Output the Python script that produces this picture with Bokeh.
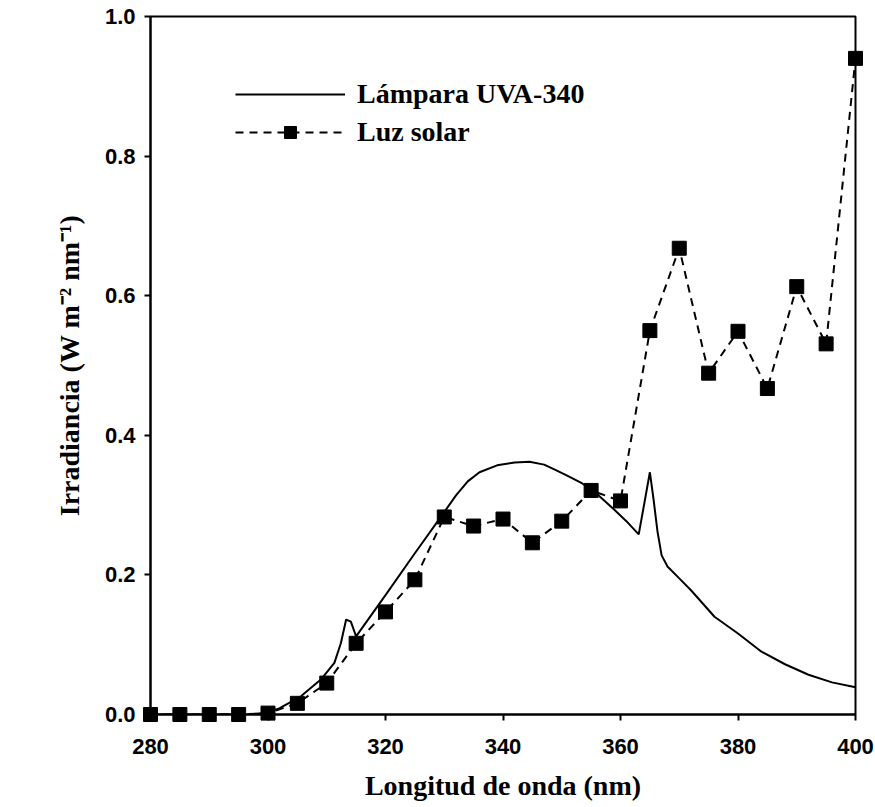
from bokeh.plotting import figure
from bokeh.models import FixedTicker, PrintfTickFormatter, Legend, LegendItem, Range1d
from bokeh.embed import file_html
from bokeh.resources import INLINE

# Sunlight spectral irradiance, sampled every 5 nm
solar_nm = [280, 285, 290, 295, 300, 305, 310, 315, 320, 325, 330, 335, 340,
            345, 350, 355, 360, 365, 370, 375, 380, 385, 390, 395, 400]
solar_irr = [0.0, 0.0, 0.0, 0.0, 0.002, 0.016, 0.045, 0.102, 0.147, 0.193,
             0.283, 0.270, 0.280, 0.246, 0.277, 0.321, 0.306, 0.550, 0.668,
             0.489, 0.549, 0.467, 0.613, 0.531, 0.940]

# UVA-340 fluorescent lamp spectrum
lamp_nm = [280, 290, 297, 300, 302, 305.6, 309, 311.3, 312.4, 313.3, 314.1,
           315, 320, 325, 330, 332, 334, 336, 339, 342, 344.5, 347, 349, 351,
           353.5, 356, 359, 361, 363.1, 364, 365, 365.6, 366.3, 367, 368, 370,
           372, 376, 380, 384, 388, 392, 396, 400]
lamp_irr = [0.0, 0.0, 0.0, 0.003, 0.009, 0.026, 0.050, 0.074, 0.102, 0.136,
            0.133, 0.112, 0.171, 0.231, 0.290, 0.314, 0.334, 0.347, 0.357,
            0.361, 0.362, 0.358, 0.350, 0.342, 0.331, 0.316, 0.293, 0.277,
            0.258, 0.300, 0.347, 0.310, 0.262, 0.228, 0.212, 0.195, 0.178,
            0.140, 0.116, 0.090, 0.072, 0.057, 0.046, 0.039]

x_ticks = [280, 300, 320, 340, 360, 380, 400]
y_ticks = [0.0, 0.2, 0.4, 0.6, 0.8, 1.0]

p = figure(width=875, height=807, output_backend="svg", toolbar_location=None,
           x_range=Range1d(280, 400), y_range=Range1d(0, 1.0),
           min_border_left=150, min_border_right=20, min_border_top=16,
           min_border_bottom=93)
p.background_fill_color = "white"
p.border_fill_color = "white"
p.outline_line_color = "black"
p.outline_line_width = 2
p.grid.visible = False

lamp = p.line(lamp_nm, lamp_irr, line_color="black", line_width=2)
sol_line = p.line(solar_nm, solar_irr, line_color="black", line_width=2,
                  line_dash="8 6")
# markers drawn on the overlay level so the end squares sit over the frame
sol_pts = p.scatter(solar_nm, solar_irr, marker="square", size=14,
                    fill_color="black", line_color="black", level="overlay")

for ax in (p.xaxis[0], p.yaxis[0]):
    ax.axis_line_width = 2
    ax.axis_line_color = "black"
    ax.major_tick_line_width = 2
    ax.major_tick_out = 6
    ax.major_tick_in = 0
    ax.minor_tick_out = 0
    ax.minor_tick_in = 0
    ax.major_label_text_font = "Liberation Sans"
    ax.major_label_text_font_style = "bold"
    ax.major_label_text_font_size = "22px"
    ax.major_label_text_color = "black"
    ax.axis_label_text_font = "Liberation Serif"
    ax.axis_label_text_font_style = "bold"
    ax.axis_label_text_font_size = "28px"
    ax.axis_label_text_color = "black"

p.xaxis.ticker = FixedTicker(ticks=x_ticks)
p.yaxis.ticker = FixedTicker(ticks=y_ticks)
p.yaxis.formatter = PrintfTickFormatter(format="%.1f")
p.xaxis.axis_label = "Longitud de onda (nm)"
p.yaxis.axis_label = "Irradiancia (W m\u207b\u00b2 nm\u207b\u00b9)"
p.xaxis.major_label_standoff = 18
p.yaxis.major_label_standoff = 9
p.xaxis.axis_label_standoff = 13
p.yaxis.axis_label_standoff = 17

legend = Legend(items=[
    LegendItem(label="Lámpara UVA-340", renderers=[lamp]),
    LegendItem(label="Luz solar", renderers=[sol_line, sol_pts]),
], location=(85, 566))
legend.border_line_color = None
legend.background_fill_alpha = 0
legend.padding = 0
legend.margin = 0
legend.spacing = 6
legend.glyph_width = 110
legend.glyph_height = 30
legend.label_height = 30
legend.label_standoff = 12
legend.label_text_font = "Liberation Serif"
legend.label_text_font_style = "bold"
legend.label_text_font_size = "28px"
legend.label_text_color = "black"
p.add_layout(legend, "center")

open("out.html", "w").write(file_html(p, INLINE))
